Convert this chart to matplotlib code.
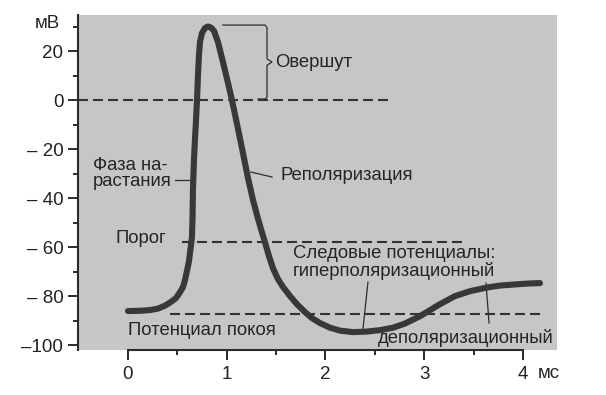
import matplotlib
matplotlib.use('Agg')
import matplotlib.pyplot as plt

plt.rcParams['font.family'] = ['Liberation Sans', 'DejaVu Sans']
plt.rcParams['lines.scale_dashes'] = False

# ---- data ----
time_ms = [0.000, 0.122, 0.223, 0.304, 0.375, 0.435, 0.486, 0.527, 0.557, 0.577,
           0.597, 0.618, 0.628, 0.638, 0.648, 0.653, 0.658, 0.668, 0.678, 0.689,
           0.699, 0.709, 0.719, 0.729, 0.749, 0.780, 0.810, 0.840, 0.871, 0.911,
           0.962, 1.013, 1.053, 1.104, 1.154, 1.215, 1.266, 1.306, 1.347, 1.387,
           1.428, 1.468, 1.519, 1.570, 1.641, 1.711, 1.792, 1.863, 1.944, 2.046,
           2.147, 2.278, 2.410, 2.552, 2.684, 2.805, 2.957, 3.159, 3.311, 3.463,
           3.635, 3.767, 3.899, 4.041, 4.172]
voltage_mv = [-86.1, -86.0, -85.7, -85.1, -83.9, -82.4, -80.8, -78.4, -76.3, -73.5,
              -69.8, -65.7, -62.4, -59.2, -55.9, -49.0, -36.7, -24.5, -16.3, -8.2,
              0.0, 10.2, 18.4, 23.7, 27.3, 29.4, 30.0, 29.6, 28.2, 23.7,
              15.5, 6.9, 0.0, -9.8, -19.6, -31.8, -40.8, -46.9, -52.7, -58.0,
              -63.7, -68.6, -73.1, -76.3, -80.0, -83.3, -86.5, -89.0, -91.0, -92.9,
              -94.1, -94.7, -94.5, -93.9, -92.9, -91.2, -88.2, -83.3, -80.0, -78.0,
              -76.5, -75.7, -75.3, -74.9, -74.7]

zero_level = 0
threshold_level = -58
rest_level = -87.5

x_major = [0, 1, 2, 3, 4]
x_minor = [0.5, 1.5, 2.5, 3.5]
x_labels = ['0', '1', '2', '3', '4']
y_major = [-100, -80, -60, -40, -20, 0, 20]
y_minor = [-90, -70, -50, -30, -10, 10, 30]
y_labels = ['\u2013100', '\u2013 80', '\u2013 60', '\u2013 40', '\u2013 20', '0', '20']

# ---- figure ----
W, H = 606, 395
fig = plt.figure(figsize=(W / 100, H / 100), dpi=100)
ax = fig.add_axes([78 / W, 1 - 350 / H, (557 - 78) / W, (350 - 15) / H])
ax.set_facecolor('#c6c6c6')
ax.set_xlim(-0.506, 4.344)
ax.set_ylim(-102.0, 34.7)

ink = '#2b2b2b'
for s in ('top', 'right'):
    ax.spines[s].set_visible(False)
for s in ('left', 'bottom'):
    ax.spines[s].set_color(ink)
    ax.spines[s].set_linewidth(1.5)
ax.spines['bottom'].set_bounds(0, 4)

ax.set_xticks(x_major)
ax.set_xticklabels(x_labels)
ax.set_xticks(x_minor, minor=True)
ax.set_yticks(y_major)
ax.set_yticklabels(y_labels)
ax.set_yticks(y_minor, minor=True)
ax.tick_params(which='major', length=7.2, width=1.4, color=ink, labelsize=13.5,
               labelcolor='#222222', direction='out')
ax.tick_params(which='minor', length=3.6, width=1.4, color=ink, direction='out')
ax.tick_params(axis='y', pad=3.4)
ax.tick_params(axis='x', pad=4.5)

# dashed reference lines
dash = dict(color='#333333', lw=1.5, linestyle=(0, (7.2, 3.6)), zorder=2)
ax.plot([-0.506, 2.65], [zero_level, zero_level], **dash)
ax.plot([0.55, 3.43], [threshold_level, threshold_level], **dash)
ax.plot([0.43, 4.20], [rest_level, rest_level], **dash)

# action potential curve
ax.plot(time_ms, voltage_mv, color='#383838', lw=4.4, solid_joinstyle='round',
        solid_capstyle='round', zorder=4)

fs = 13.3
tc = '#242424'
thin = dict(color='#2e2e2e', lw=0.9, zorder=3)

# overshoot bracket
peak = max(voltage_mv) + 0.6
bx = 1.408
ax.plot([0.96, bx - 0.02, bx, bx, bx + 0.05, bx, bx, bx - 0.02, 1.316],
        [peak, peak, peak - 1.0, 16.8, 15.5, 14.2, 1.2, 0.4, 0.4], **thin)
ax.text(1.49, 15.5, 'Овершут', fontsize=fs, color=tc, ha='left', va='center')

# rising phase
ax.text(-0.354, -30.0, 'Фаза на-\nрастания', fontsize=fs, color=tc, ha='left',
        va='center', linespacing=0.95)
ax.plot([0.476, 0.648], [-32.6, -32.6], **thin)

# repolarisation
ax.text(1.54, -30.6, 'Реполяризация', fontsize=fs, color=tc, ha='left', va='center')
ax.plot([1.246, 1.458], [-29.4, -31.4], **thin)

# threshold
ax.text(-0.13, -56.3, 'Порог', fontsize=fs, color=tc, ha='left', va='center')

# after-potentials
ax.text(1.67, -66.3, 'Следовые потенциалы:\nгиперполяризационный', fontsize=fs,
        color=tc, ha='left', va='center', linespacing=1.0)
ax.plot([2.43, 2.38], [-74.3, -93.1], **thin)
ax.text(2.53, -97.1, 'деполяризационный', fontsize=fs, color=tc, ha='left', va='center')
ax.plot([3.625, 3.656], [-74.7, -91.0], **thin)

# resting potential
ax.text(0.0, -93.9, 'Потенциал покоя', fontsize=fs, color=tc, ha='left', va='center')

# units
ax.text(-0.82, 31.4, 'мВ', fontsize=13.5, color=tc, ha='center', va='center', clip_on=False)
ax.text(4.15, -111.4, 'мс', fontsize=13.5, color=tc, ha='left', va='center', clip_on=False)

fig.savefig('out.png', dpi=100)
